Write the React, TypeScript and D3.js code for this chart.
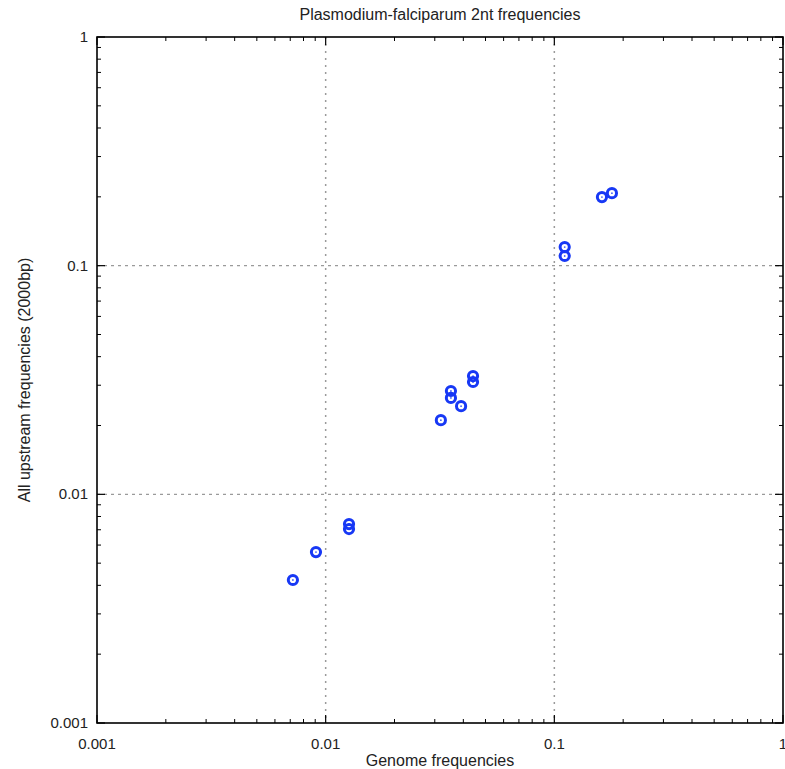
import React from "react";
import * as d3 from "d3";

const genomeFreq = [0.00719, 0.00907, 0.01265, 0.01265, 0.0319, 0.0353, 0.0353, 0.0391, 0.0441, 0.0441, 0.111, 0.111, 0.1615, 0.1786];
const upstreamFreq = [0.00422, 0.00559, 0.00741, 0.00705, 0.0211, 0.0283, 0.0264, 0.0243, 0.0329, 0.031, 0.1206, 0.1102, 0.1995, 0.2076];
const majorTicks = [0.001, 0.01, 0.1, 1];
const tickLabels = ["0.001", "0.01", "0.1", "1"];

const W = 785;
const H = 769;
const left = 97, right = 783, top = 37, bottom = 723;

export default function App() {
  const x = d3.scaleLog().domain([0.001, 1]).range([left, right]);
  const y = d3.scaleLog().domain([0.001, 1]).range([bottom, top]);
  const minor: number[] = [];
  for (let e = -3; e < 0; e++) {
    for (let m = 2; m <= 9; m++) minor.push(m * Math.pow(10, e));
  }
  const font = "'Liberation Sans', Arial, sans-serif";
  const blue = "#1738f5";
  return (
    <svg width={W} height={H} style={{ position: "absolute", left: 0, top: 0, overflow: "visible" }} fontFamily={font}>
      <rect x={0} y={0} width={W} height={H} fill="#fff" />
      {/* grid */}
      {[0.01, 0.1].map((v) => (
        <g key={"g" + v}>
          <line x1={x(v)} x2={x(v)} y1={top} y2={bottom} stroke="#9a9a9a" strokeWidth={1.5} strokeDasharray="2,5" />
          <line x1={left} x2={right} y1={y(v)} y2={y(v)} stroke="#9a9a9a" strokeWidth={1.2} strokeDasharray="3,4" />
        </g>
      ))}
      {/* ticks */}
      {majorTicks.map((v) => (
        <g key={"t" + v} stroke="#000" strokeWidth={1.2}>
          <line x1={x(v)} x2={x(v)} y1={bottom} y2={bottom - 8} />
          <line x1={x(v)} x2={x(v)} y1={top} y2={top + 8} />
          <line x1={left} x2={left + 8} y1={y(v)} y2={y(v)} />
          <line x1={right} x2={right - 8} y1={y(v)} y2={y(v)} />
        </g>
      ))}
      {minor.map((v) => (
        <g key={"m" + v} stroke="#000" strokeWidth={1}>
          <line x1={x(v)} x2={x(v)} y1={bottom} y2={bottom - 4} />
          <line x1={x(v)} x2={x(v)} y1={top} y2={top + 4} />
          <line x1={left} x2={left + 4} y1={y(v)} y2={y(v)} />
          <line x1={right} x2={right - 4} y1={y(v)} y2={y(v)} />
        </g>
      ))}
      <rect x={left} y={top} width={right - left} height={bottom - top} fill="none" stroke="#000" strokeWidth={1.6} />
      {/* tick labels */}
      {majorTicks.map((v, i) => (
        <text key={"xl" + v} x={x(v)} y={bottom + 26} fontSize={15} textAnchor="middle" fill="#222">
          {tickLabels[i]}
        </text>
      ))}
      {majorTicks.map((v, i) => (
        <text key={"yl" + v} x={left - 9} y={y(v) + 5} fontSize={15} textAnchor="end" fill="#222">
          {tickLabels[i]}
        </text>
      ))}
      {/* points */}
      {genomeFreq.map((g, i) => (
        <g key={"p" + i}>
          <circle cx={x(g)} cy={y(upstreamFreq[i])} r={4.6} fill="none" stroke={blue} strokeWidth={3} />
          <circle cx={x(g)} cy={y(upstreamFreq[i])} r={0.9} fill={blue} opacity={0.8} />
        </g>
      ))}
      {/* titles */}
      <text x={(left + right) / 2} y={20} fontSize={16} textAnchor="middle" fill="#222">
        Plasmodium-falciparum 2nt frequencies
      </text>
      <text x={(left + right) / 2} y={766} fontSize={16} textAnchor="middle" fill="#222">
        Genome frequencies
      </text>
      <text transform={`translate(30, ${(top + bottom) / 2}) rotate(-90)`} fontSize={16} textAnchor="middle" fill="#222">
        All upstream frequencies (2000bp)
      </text>
    </svg>
  );
}
